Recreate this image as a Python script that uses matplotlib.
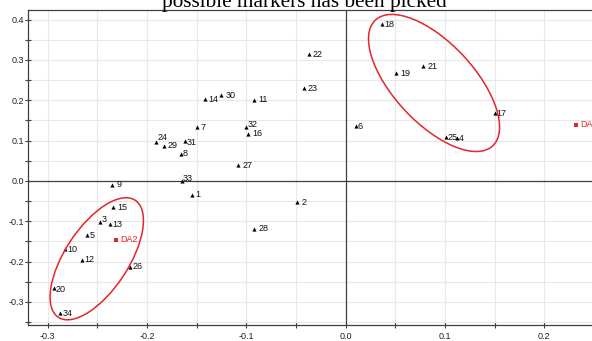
"""
Score plot with picked marker groups circled
"""
import numpy as np
import matplotlib
matplotlib.use('Agg')
import matplotlib.pyplot as plt
from matplotlib.patches import Ellipse
from matplotlib.transforms import IdentityTransform
from matplotlib.ticker import MultipleLocator

# Sample scores (component 1 vs component 2)
labels = ['1', '2', '3', '4', '5', '6', '7', '8', '9', '10', '11', '12',
          '13', '14', '15', '16', '17', '18', '19', '20', '21', '22', '23',
          '24', '25', '26', '27', '28', '29', '30', '31', '32', '33', '34']
x_scores = [-0.155, -0.049, -0.247, 0.112, -0.260, 0.010, -0.150, -0.166,
            -0.235, -0.282, -0.092, -0.265, -0.237, -0.142, -0.234, -0.098,
            0.150, 0.037, 0.051, -0.294, 0.078, -0.037, -0.042, -0.191,
            0.101, -0.217, -0.108, -0.092, -0.183, -0.125, -0.162, -0.100,
            -0.165, -0.287]
y_scores = [-0.034, -0.053, -0.103, 0.106, -0.133, 0.136, 0.133, 0.067,
            -0.009, -0.170, 0.201, -0.196, -0.107, 0.203, -0.065, 0.117,
            0.168, 0.389, 0.267, -0.266, 0.285, 0.314, 0.230, 0.097,
            0.108, -0.213, 0.039, -0.119, 0.087, 0.213, 0.100, 0.135,
            0.000, -0.328]

# Group centroids (red squares)
group_labels = ['DA', 'DA2']
group_x = [0.232, -0.231]
group_y = [0.139, -0.146]

# Ellipses drawn around the picked groups: centre (data), semi-axes (px), angle (deg)
ellipse_centres = [(0.089, 0.243), (-0.2505, -0.193)]
ellipse_axes = [(86, 40), (70, 31.7)]
ellipse_angles = [-47, 56.7]

# label offsets in points for a few crowded labels
label_offsets = {'24': (1, 3), '3': (1, 2), '33': (1, 2), '32': (1, 1.5),
                 '18': (1.5, 0), '6': (1.5, 0), '17': (1.5, 0), '34': (1.5, 0),
                 '26': (1.5, 0), '8': (1.5, 0), '31': (1.5, -1.5), '4': (1.5, 0),
                 '25': (1.5, 0), '13': (1.5, 0), '5': (1.5, -1), '10': (1.5, 0),
                 '12': (1.5, 0), '20': (1.5, -1)}

RED = '#e3262b'

fig = plt.figure(figsize=(5.92, 3.41), dpi=100)
ax = fig.add_axes([28 / 592, (341 - 325.3) / 341, 1 - 28 / 592, (325.3 - 10) / 341])

ax.set_xlim(-0.3197, 0.248)
ax.set_ylim(-0.358, 0.424)

# grid every 0.05, labels every 0.1
ax.xaxis.set_major_locator(MultipleLocator(0.1))
ax.xaxis.set_minor_locator(MultipleLocator(0.05))
ax.yaxis.set_major_locator(MultipleLocator(0.1))
ax.yaxis.set_minor_locator(MultipleLocator(0.05))
ax.grid(which='both', color='#e8e8e8', linewidth=0.8)
ax.set_axisbelow(True)
ax.xaxis.set_major_formatter(plt.FuncFormatter(lambda v, p: f'{v:.1f}'))
ax.yaxis.set_major_formatter(plt.FuncFormatter(lambda v, p: f'{v:.1f}'))
ax.tick_params(which='both', direction='inout', length=4, width=0.8,
               color='#404040', labelsize=6.5, labelcolor='#222222')
ax.tick_params(axis='x', pad=3)
ax.tick_params(axis='y', pad=1)
for lab in ax.get_xticklabels() + ax.get_yticklabels():
    lab.set_family('Liberation Sans')

for side in ['left', 'bottom', 'top']:
    ax.spines[side].set_color('#404040')
    ax.spines[side].set_linewidth(0.9)
ax.spines['right'].set_visible(False)

ax.axhline(0, color='#404040', linewidth=0.9, zorder=1)
ax.axvline(0, color='#404040', linewidth=0.9, zorder=1)

ax.scatter(x_scores, y_scores, marker='^', s=9, color='black', linewidths=0, zorder=3)
for lab, x, y in zip(labels, x_scores, y_scores):
    dx, dy = label_offsets.get(lab, (3, 0))
    ax.annotate(lab, (x, y), xytext=(dx, dy), textcoords='offset points',
                fontsize=6.5, family='Liberation Sans', va='center', ha='left',
                color='#111111', zorder=4)

ax.scatter(group_x, group_y, marker='s', s=10, color=RED, linewidths=0, zorder=3)
for lab, x, y in zip(group_labels, group_x, group_y):
    ax.annotate(lab, (x, y), xytext=(3, 0), textcoords='offset points',
                fontsize=6.5, family='Liberation Sans', va='center', ha='left',
                color=RED, zorder=4)

# ellipses are defined in pixel space so the tilt is not skewed by the axis aspect
for (cx, cy), (a, b), ang in zip(ellipse_centres, ellipse_axes, ellipse_angles):
    centre = ax.transData.transform((cx, cy))
    ax.add_patch(Ellipse(centre, 2 * a, 2 * b, angle=ang, transform=IdentityTransform(),
                         fill=False, edgecolor=RED, linewidth=1.1, zorder=5))

# title sits partly above the canvas, as in the source image
fig.text(304 / 592, 1 - 6.5 / 341, 'possible markers has been picked',
         family='Liberation Serif', fontsize=15.3, ha='center', va='baseline')

fig.savefig('out.png', dpi=100)
plt.close(fig)
